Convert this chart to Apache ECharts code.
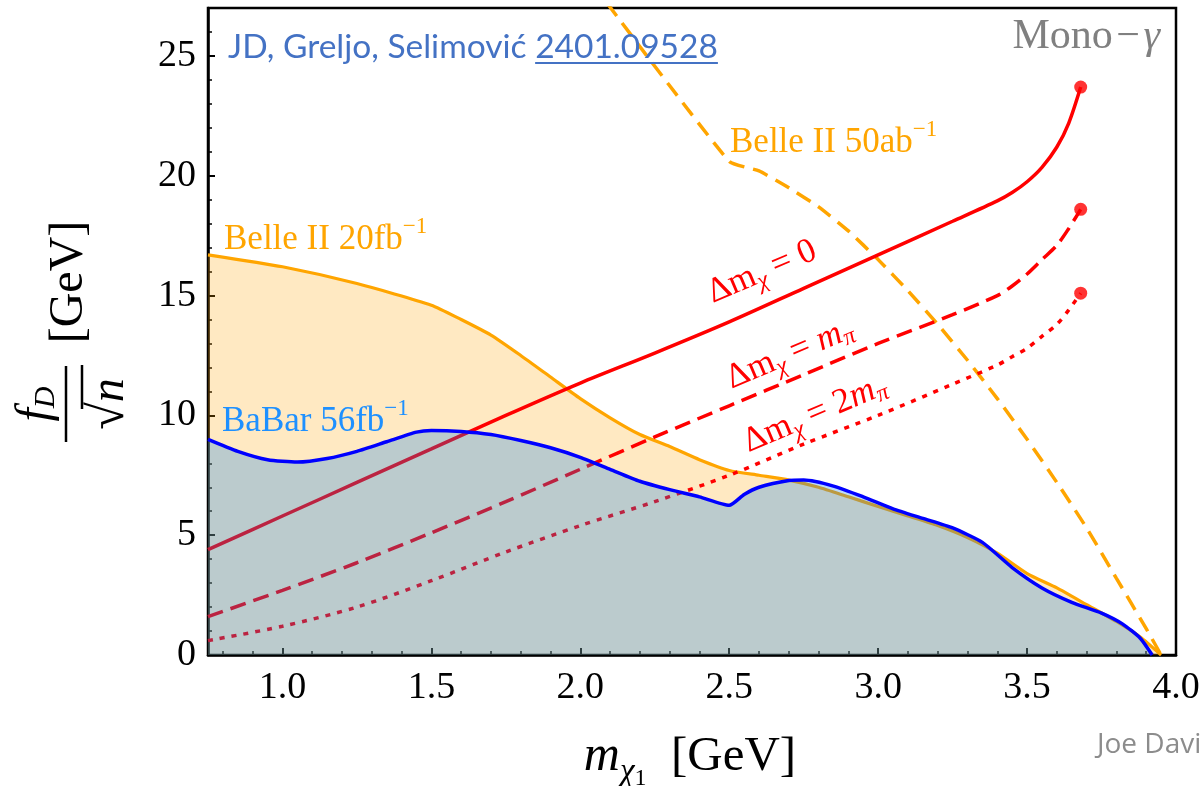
<!DOCTYPE html>
<html><head><meta charset="utf-8">
<script src="https://cdn.jsdelivr.net/npm/echarts@6/dist/echarts.min.js"></script>
<style>html,body{margin:0;padding:0;background:#fff}#c{width:1204px;height:786px}</style>
</head><body><div id="c"></div>
<script>
// ---------------- data ----------------
const xMajorTicks = [1.0, 1.5, 2.0, 2.5, 3.0, 3.5, 4.0];
const xMinorTicks = [0.8,0.9,1.1,1.2,1.3,1.4,1.6,1.7,1.8,1.9,2.1,2.2,2.3,2.4,2.6,2.7,2.8,2.9,3.1,3.2,3.3,3.4,3.6,3.7,3.8,3.9];
const yMajorTicks = [0, 5, 10, 15, 20, 25];
const yMinorTicks = [1,2,3,4,6,7,8,9,11,12,13,14,16,17,18,19,21,22,23,24,26];

const belle20X = [0.75,1.0,1.25,1.5,1.6,1.7,1.8,1.9,2.0,2.1,2.2,2.3,2.4,2.5,2.6,2.7,2.8,2.9,3.0,3.1,3.2,3.3,3.4,3.5,3.6,3.7,3.8,3.88,3.95];
const belle20Y = [16.7,16.2,15.5,14.6,14.0,13.35,12.5,11.6,10.7,9.9,9.2,8.7,8.15,7.7,7.5,7.3,7.0,6.6,6.2,5.8,5.4,4.9,4.25,3.4,2.8,2.1,1.4,0.75,0.0];

const belle50X = [2.09,2.5,2.6,2.7,2.8,2.9,3.0,3.1,3.2,3.3,3.4,3.5,3.6,3.7,3.8,3.9,3.95];
const belle50Y = [27.2,20.6,20.2,19.5,18.7,17.7,16.5,15.2,13.8,12.3,10.7,9.0,7.2,5.3,3.2,1.1,0.0];

const babarX = [0.75,0.85,0.95,1.05,1.15,1.25,1.35,1.45,1.5,1.6,1.7,1.8,1.9,2.0,2.1,2.2,2.3,2.4,2.5,2.55,2.6,2.7,2.75,2.85,2.95,3.05,3.15,3.25,3.35,3.45,3.55,3.65,3.75,3.82,3.88,3.92];
const babarY = [9.0,8.5,8.15,8.05,8.2,8.5,8.9,9.3,9.37,9.33,9.2,8.95,8.65,8.25,7.75,7.25,6.9,6.6,6.25,6.7,7.0,7.28,7.3,7.05,6.6,6.1,5.7,5.3,4.7,3.65,2.8,2.2,1.75,1.3,0.7,0.0];

const redX    = [0.75,1.0,1.25,1.5,1.75,2.0,2.25,2.5,2.75,3.0,3.25,3.4,3.45,3.5,3.55,3.6,3.64,3.68];
const dm0Y    = [4.4,5.8,7.2,8.6,10.0,11.35,12.6,13.9,15.3,16.7,18.1,18.95,19.3,19.75,20.35,21.2,22.2,23.7];
const dmPiY   = [1.6,2.7,3.85,5.1,6.4,7.75,9.1,10.4,11.7,13.0,14.2,15.0,15.4,15.9,16.5,17.1,17.8,18.6];
const dm2PiY  = [0.6,1.2,2.0,3.1,4.3,5.4,6.4,7.5,8.8,10.0,11.3,12.1,12.45,12.8,13.3,13.8,14.4,15.1];

// ---------------- helpers ----------------
const pairs = (xs, ys) => xs.map((x, i) => [x, ys[i]]);
const SERIF = '"Liberation Serif", "DejaVu Serif", serif';
const mctx = document.createElement('canvas').getContext('2d');
function tw(t, font) { mctx.font = font; return mctx.measureText(t).width; }
// pieces: {t, font, dy, color, under}
function richLabel(pieces, o) {
  const ws = pieces.map(p => tw(p.t, p.font));
  const total = ws.reduce((a, b) => a + b, 0);
  let x = o.align === 'center' ? -total / 2 : (o.align === 'right' ? -total : 0);
  const children = [];
  pieces.forEach((p, i) => {
    children.push({ type: 'text', x: x, y: p.dy || 0, z: 100,
      style: { text: p.t, font: p.font, fill: p.color || o.color, align: 'left', verticalAlign: 'middle' } });
    if (p.under) children.push({ type: 'line', z: 100, shape: { x1: x, y1: p.under, x2: x + ws[i], y2: p.under },
      style: { stroke: p.color || o.color, lineWidth: 2 } });
    x += ws[i];
  });
  return { type: 'group', x: o.x, y: o.y, rotation: o.rotation || 0, children: children, z: 100 };
}
const f = (size, it) => (it ? 'italic ' : '') + size + 'px ' + SERIF;

const rot = 23 * Math.PI / 180;
const graphics = [
  richLabel([{ t: 'JD, Greljo, Selimović ', font: '33.5px Lato' },
             { t: '2401.09528', font: '33.5px Lato', under: 16 }], { x: 228, y: 47, color: '#4472C4' }),
  richLabel([{ t: 'Mono\u200A\u2212\u200A', font: f(42) }, { t: 'γ', font: f(42, true) }],
            { x: 1160, y: 37, align: 'right', color: '#808080' }),
  richLabel([{ t: 'Belle II 50ab', font: f(35) }, { t: '\u22121', font: f(23), dy: -13 }],
            { x: 730, y: 143, color: '#FFA500' }),
  richLabel([{ t: 'Belle II 20fb', font: f(35) }, { t: '\u22121', font: f(23), dy: -13 }],
            { x: 224, y: 240, color: '#FFA500' }),
  richLabel([{ t: 'BaBar 56fb', font: f(35) }, { t: '\u22121', font: f(23), dy: -13 }],
            { x: 222, y: 422, color: '#1E90FF' }),
  richLabel([{ t: 'Δm', font: f(35) }, { t: 'χ', font: f(24, true), dy: 9 }, { t: ' = 0', font: f(35) }],
            { x: 762, y: 272, align: 'center', rotation: rot, color: '#FF0000' }),
  richLabel([{ t: 'Δm', font: f(35) }, { t: 'χ', font: f(24, true), dy: 9 }, { t: ' = ', font: f(35) },
             { t: 'm', font: f(35, true) }, { t: 'π', font: f(24, true), dy: 8 }],
            { x: 790, y: 354, align: 'center', rotation: rot, color: '#FF0000' }),
  richLabel([{ t: 'Δm', font: f(35) }, { t: 'χ', font: f(24, true), dy: 9 }, { t: ' = 2', font: f(35) },
             { t: 'm', font: f(35, true) }, { t: 'π', font: f(24, true), dy: 8 }],
            { x: 815, y: 414, align: 'center', rotation: rot, color: '#FF0000' }),
  // x axis title
  richLabel([{ t: 'm', font: f(50, true) }, { t: 'χ', font: f(33, true), dy: 15 }, { t: '1', font: f(24), dy: 22 },
             { t: '\u2002[GeV]', font: f(49) }], { x: 690, y: 757, align: 'center', color: '#000' }),
  // y axis title (rotated)
  { type: 'group', x: 66, y: 404, rotation: Math.PI / 2, z: 100, children: [
      richLabel([{ t: 'f', font: f(48, true) }, { t: 'D', font: f(30, true), dy: 10 }], { x: 0, y: -30, align: 'center', color: '#000' }),
      { type: 'line', z: 100, shape: { x1: -38, y1: 0, x2: 38, y2: 0 }, style: { stroke: '#000', lineWidth: 2.5 } },
      richLabel([{ t: '\u221A', font: f(50) }, { t: 'n', font: f(48, true) }], { x: 0, y: 44, align: 'center', color: '#000' }),
      { type: 'line', z: 100, shape: { x1: -5, y1: 16, x2: 39, y2: 16 }, style: { stroke: '#000', lineWidth: 2.5 } },
      richLabel([{ t: '[GeV]', font: f(48) }], { x: 122, y: 3, align: 'center', color: '#000' })
  ] },
  richLabel([{ t: 'Joe Davi', font: '28px "Open Sans"' }], { x: 1097, y: 745, color: '#8C8C8C' })
];

const chart = echarts.init(document.getElementById('c'), null, { renderer: 'canvas' });
const axisFont = { fontFamily: SERIF, fontSize: 38, color: '#000' };
chart.setOption({
  animation: false,
  backgroundColor: '#fff',
  grid: { left: 208, top: 8, right: 28, bottom: 131, show: true, borderColor: '#000', borderWidth: 2.5, backgroundColor: 'transparent', containLabel: false },
  xAxis: [
    { type: 'value', min: 0.75, max: 4.0, position: 'bottom',
      axisLine: { show: true, lineStyle: { color: '#000', width: 2.5 } },
      axisTick: { show: true, inside: true, length: 7, lineStyle: { color: '#000', width: 2 }, customValues: xMajorTicks },
      axisLabel: Object.assign({ margin: 14, customValues: xMajorTicks, formatter: v => v.toFixed(1) }, axisFont),
      splitLine: { show: false } },
    { type: 'value', min: 0.75, max: 4.0, position: 'bottom',
      axisLine: { show: false },
      axisTick: { show: true, inside: true, length: 4, lineStyle: { color: '#000', width: 1.5 }, customValues: xMinorTicks },
      axisLabel: { show: false }, splitLine: { show: false } }
  ],
  yAxis: [
    { type: 'value', min: 0, max: 27, position: 'left',
      axisLine: { show: true, lineStyle: { color: '#000', width: 2.5 } },
      axisTick: { show: true, inside: true, length: 7, lineStyle: { color: '#000', width: 2 }, customValues: yMajorTicks },
      axisLabel: Object.assign({ margin: 12, customValues: yMajorTicks }, axisFont),
      splitLine: { show: false } },
    { type: 'value', min: 0, max: 27, position: 'left',
      axisLine: { show: false },
      axisTick: { show: true, inside: true, length: 4, lineStyle: { color: '#000', width: 1.5 }, customValues: yMinorTicks },
      axisLabel: { show: false }, splitLine: { show: false } }
  ],
  series: [
    { name: 'Belle II 20fb-1', type: 'line', data: pairs(belle20X, belle20Y), showSymbol: false, smooth: 0.2,
      lineStyle: { color: '#FFA500', width: 3.2 }, areaStyle: { color: 'rgba(255,165,0,0.34)' }, z: 2 },
    { name: 'Belle II 50ab-1', type: 'line', data: pairs(belle50X, belle50Y), showSymbol: false, smooth: 0.15,
      lineStyle: { color: '#FFA500', width: 3.5, type: [16, 9] }, z: 2 },
    { name: 'dm0', type: 'line', data: pairs(redX, dm0Y), showSymbol: false, smooth: 0.3,
      lineStyle: { color: '#FF0000', width: 3.5 }, z: 3 },
    { name: 'dmpi', type: 'line', data: pairs(redX, dmPiY), showSymbol: false, smooth: 0.3,
      lineStyle: { color: '#FF0000', width: 3.5, type: [16, 8] }, z: 3 },
    { name: 'dm2pi', type: 'line', data: pairs(redX, dm2PiY), showSymbol: false, smooth: 0.3,
      lineStyle: { color: '#FF0000', width: 3.5, type: [5, 7] }, z: 3 },
    { name: 'BaBar 56fb-1', type: 'line', data: pairs(babarX, babarY), showSymbol: false, smooth: 0.2,
      lineStyle: { color: '#0000FF', width: 3.5 }, areaStyle: { color: 'rgba(10,125,235,0.4)' }, z: 4 },
    { name: 'ends', type: 'scatter', symbolSize: 13, itemStyle: { color: '#FF0000' }, z: 5,
      data: [dm0Y, dmPiY, dm2PiY].map(ys => [redX[redX.length - 1], ys[ys.length - 1]]) }
  ],
  graphic: graphics
});
</script></body></html>
